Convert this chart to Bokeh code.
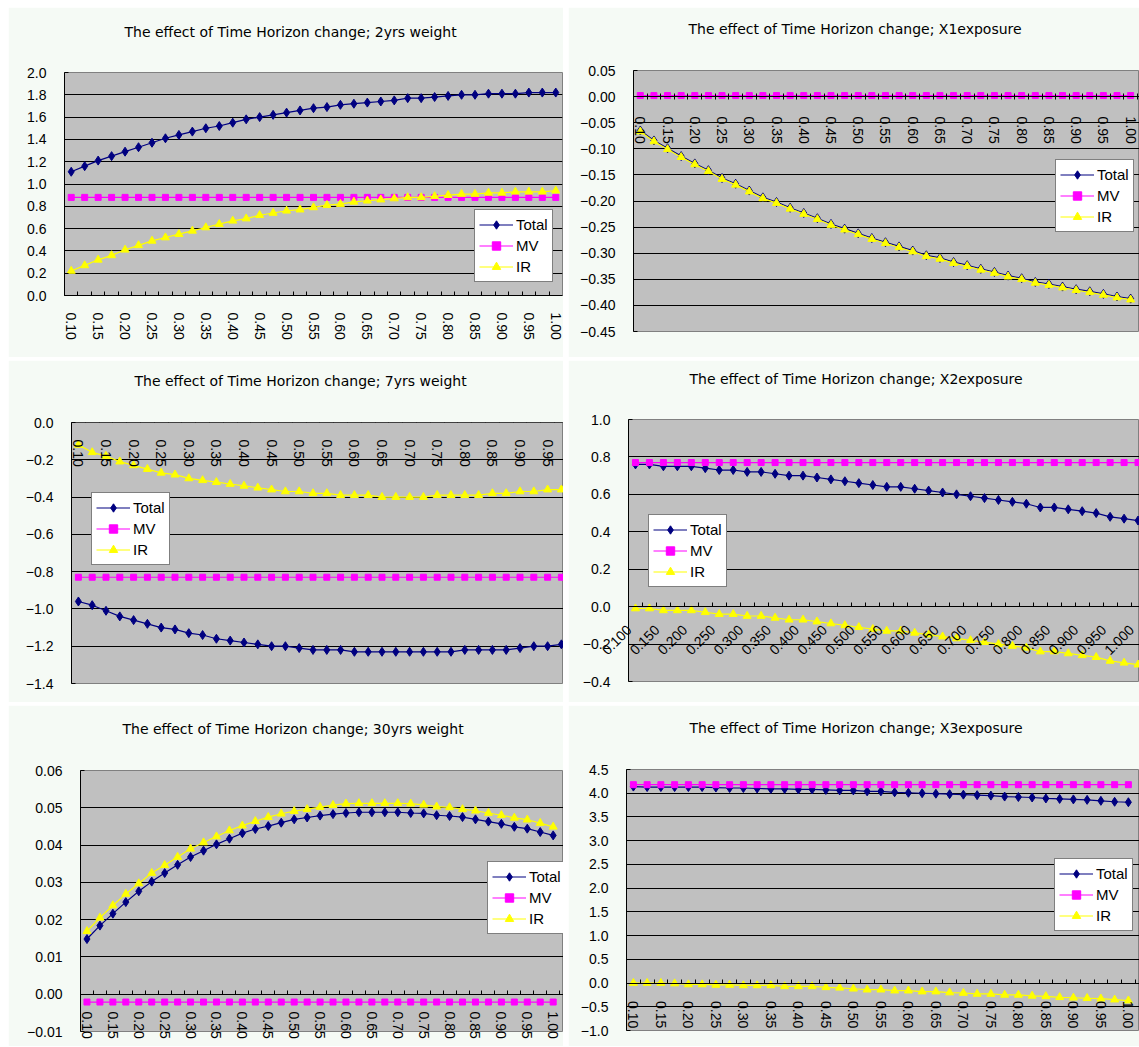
import math
from bokeh.plotting import figure
from bokeh.models import (Range1d, LinearAxis, FixedTicker, CustomJSTickFormatter,
                          Legend, LegendItem, ColumnDataSource, Grid, Title)
from bokeh.layouts import row, column
from bokeh.embed import file_html
from bokeh.resources import INLINE

# ---------------- data ----------------
horizon = [0.100, 0.125, 0.150, 0.175, 0.200, 0.225, 0.250, 0.275, 0.300, 0.325,
           0.350, 0.375, 0.400, 0.425, 0.450, 0.475, 0.500, 0.525, 0.550, 0.575,
           0.600, 0.625, 0.650, 0.675, 0.700, 0.725, 0.750, 0.775, 0.800, 0.825,
           0.850, 0.875, 0.900, 0.925, 0.950, 0.975, 1.000]
series_names = ["Total", "MV", "IR"]

# 2yrs weight
total_2y = [1.11, 1.16, 1.21, 1.25, 1.29, 1.33, 1.37, 1.41, 1.44, 1.47,
            1.50, 1.52, 1.55, 1.58, 1.60, 1.62, 1.64, 1.66, 1.68, 1.69,
            1.71, 1.72, 1.73, 1.74, 1.75, 1.77, 1.77, 1.78, 1.79, 1.80,
            1.80, 1.81, 1.81, 1.81, 1.82, 1.82, 1.82]
mv_2y = [0.88] * 37
ir_2y = [0.22, 0.27, 0.32, 0.36, 0.41, 0.45, 0.49, 0.52, 0.55, 0.58,
         0.61, 0.64, 0.67, 0.69, 0.72, 0.74, 0.76, 0.77, 0.79, 0.81,
         0.82, 0.84, 0.85, 0.86, 0.87, 0.88, 0.88, 0.89, 0.90, 0.91,
         0.91, 0.92, 0.92, 0.93, 0.93, 0.93, 0.94]

# X1 exposure
total_x1 = [-0.065, -0.084, -0.099, -0.114, -0.128, -0.141, -0.156, -0.167, -0.180, -0.193,
            -0.202, -0.213, -0.223, -0.233, -0.244, -0.253, -0.262, -0.271, -0.279, -0.287,
            -0.295, -0.304, -0.309, -0.317, -0.323, -0.330, -0.336, -0.343, -0.348, -0.355,
            -0.359, -0.364, -0.369, -0.373, -0.378, -0.383, -0.387]
mv_x1 = [0.002] * 37
ir_x1 = [-0.067, -0.086, -0.101, -0.116, -0.130, -0.143, -0.158, -0.169, -0.182, -0.195,
         -0.204, -0.215, -0.225, -0.235, -0.246, -0.255, -0.264, -0.273, -0.281, -0.289,
         -0.297, -0.306, -0.311, -0.319, -0.325, -0.332, -0.338, -0.345, -0.350, -0.357,
         -0.361, -0.366, -0.371, -0.375, -0.380, -0.385, -0.389]

# 7yrs weight
total_7y = [-0.96, -0.98, -1.01, -1.04, -1.06, -1.08, -1.10, -1.11, -1.13, -1.14,
            -1.16, -1.17, -1.18, -1.19, -1.20, -1.20, -1.21, -1.22, -1.22, -1.22,
            -1.23, -1.23, -1.23, -1.23, -1.23, -1.23, -1.23, -1.23, -1.22, -1.22,
            -1.22, -1.22, -1.21, -1.20, -1.20, -1.19, -1.19]
mv_7y = [-0.83] * 37
ir_7y = [-0.12, -0.16, -0.18, -0.21, -0.23, -0.25, -0.27, -0.28, -0.30, -0.31,
         -0.32, -0.33, -0.34, -0.35, -0.36, -0.37, -0.37, -0.38, -0.38, -0.39,
         -0.39, -0.39, -0.40, -0.40, -0.40, -0.40, -0.39, -0.39, -0.39, -0.39,
         -0.38, -0.38, -0.37, -0.37, -0.36, -0.36, -0.35]

# X2 exposure
total_x2 = [0.76, 0.76, 0.75, 0.75, 0.75, 0.74, 0.73, 0.73, 0.72, 0.72,
            0.71, 0.70, 0.70, 0.69, 0.68, 0.67, 0.66, 0.65, 0.64, 0.64,
            0.63, 0.62, 0.61, 0.60, 0.59, 0.58, 0.57, 0.56, 0.55, 0.53,
            0.53, 0.52, 0.51, 0.50, 0.48, 0.47, 0.46]
mv_x2 = [0.77] * 37
ir_x2 = [-0.01, -0.01, -0.02, -0.02, -0.02, -0.03, -0.04, -0.04, -0.05, -0.05,
         -0.06, -0.07, -0.07, -0.08, -0.09, -0.10, -0.11, -0.12, -0.13, -0.13,
         -0.14, -0.15, -0.16, -0.17, -0.18, -0.19, -0.20, -0.21, -0.22, -0.24,
         -0.24, -0.25, -0.26, -0.27, -0.29, -0.30, -0.31]

# 30yrs weight
total_30y = [0.0148, 0.0184, 0.0216, 0.0247, 0.0276, 0.0302, 0.0325, 0.0347, 0.0368, 0.0385,
             0.0402, 0.0417, 0.0432, 0.0443, 0.0451, 0.0460, 0.0469, 0.0474, 0.0479, 0.0483,
             0.0486, 0.0488, 0.0488, 0.0488, 0.0488, 0.0486, 0.0485, 0.0480, 0.0478, 0.0475,
             0.0469, 0.0463, 0.0457, 0.0449, 0.0444, 0.0435, 0.0426]
mv_30y = [-0.0021] * 37
ir_30y = [0.0169, 0.0205, 0.0238, 0.0269, 0.0297, 0.0325, 0.0346, 0.0368, 0.0390, 0.0407,
          0.0423, 0.0439, 0.0452, 0.0464, 0.0475, 0.0484, 0.0491, 0.0496, 0.0502, 0.0507,
          0.0511, 0.0512, 0.0512, 0.0512, 0.0512, 0.0511, 0.0508, 0.0503, 0.0501, 0.0496,
          0.0492, 0.0486, 0.0480, 0.0473, 0.0468, 0.0459, 0.0449]

# X3 exposure
total_x3 = [4.14, 4.13, 4.13, 4.13, 4.13, 4.13, 4.12, 4.11, 4.11, 4.10,
            4.09, 4.09, 4.08, 4.08, 4.07, 4.06, 4.06, 4.04, 4.04, 4.02,
            4.01, 4.00, 3.99, 3.98, 3.97, 3.96, 3.95, 3.93, 3.92, 3.91,
            3.89, 3.88, 3.87, 3.86, 3.84, 3.82, 3.81]
mv_x3 = [4.18] * 37
ir_x3 = [0.00, 0.00, 0.00, -0.01, -0.03, -0.03, -0.04, -0.04, -0.05, -0.05,
         -0.05, -0.07, -0.07, -0.07, -0.09, -0.10, -0.12, -0.14, -0.14, -0.16,
         -0.16, -0.18, -0.18, -0.20, -0.21, -0.23, -0.23, -0.25, -0.25, -0.27,
         -0.28, -0.30, -0.31, -0.32, -0.33, -0.35, -0.37]

titles = ["The effect of Time Horizon change; 2yrs weight",
          "The effect of Time Horizon change; X1exposure",
          "The effect of Time Horizon change; 7yrs weight",
          "The effect of Time Horizon change; X2exposure",
          "The effect of Time Horizon change; 30yrs weight",
          "The effect of Time Horizon change; X3exposure"]

# ---------------- styling ----------------
PANEL_BG = "#f5faf5"
PLOT_BG = "#c0c0c0"
NAVY = "#000080"
MAGENTA = "#ff00ff"
YELLOW = "#ffff00"
TICK_FONT = "Liberation Sans"
TITLE_FONT = "DejaVu Sans"
TITLE_H = 16      # approx. text box height of the 14px title
SPACER_H = 1      # approx. text box height of the 1px spacer title

STEP = horizon[1] - horizon[0]

YFMT = """
const v = Math.abs(tick) < 1e-9 ? 0 : tick;
return v.toFixed(d).replace('-', '\\u2212');
"""
XFMT = "return (tick + s).toFixed(d);"


def make_panel(title, total, mv, ir, ylo, yhi, yint, ydec, xdec, orient,
               W, H, fl, fr, ft, fb, catw, leg_xy, t_left, tcy,
               tin, tout, xstand, mode, lab_shift_px=0.0):
    frame_w = W - fl - fr
    frame_h = H - ft - fb
    x0 = horizon[0] - STEP / 2
    x1 = x0 + frame_w / catw * STEP
    p = figure(width=W, height=H, x_range=Range1d(x0, x1), y_range=Range1d(ylo, yhi),
               output_backend="svg", toolbar_location=None,
               x_axis_location=None, y_axis_location=None,
               min_border_left=fl, min_border_right=fr,
               min_border_top=ft, min_border_bottom=fb)
    p.background_fill_color = PLOT_BG
    p.border_fill_color = PANEL_BG
    p.outline_line_color = "#808080"
    p.outline_line_width = 1
    for g in p.grid:
        g.visible = False

    n = int(round((yhi - ylo) / yint))
    yticks = [round(ylo + k * yint, 6) for k in range(n + 1)]
    yt = FixedTicker(ticks=yticks)
    p.add_layout(Grid(dimension=1, ticker=yt, grid_line_color="black",
                      grid_line_width=1), "center")

    yax = LinearAxis(ticker=yt,
                     formatter=CustomJSTickFormatter(args=dict(d=ydec), code=YFMT),
                     major_tick_in=4, major_tick_out=0, minor_tick_in=0, minor_tick_out=0,
                     major_label_standoff=18, axis_line_color="black",
                     major_tick_line_color="black",
                     major_label_text_font=TICK_FONT, major_label_text_font_size="14px",
                     major_label_text_color="black")
    p.add_layout(yax, "left")

    minor = [h - STEP / 2 for h in horizon] + [horizon[-1] + STEP / 2]
    label_kw = dict(major_label_orientation=orient,
                    major_label_text_font=TICK_FONT, major_label_text_font_size="14px",
                    major_label_text_color="black")
    if mode in ("plain", "fixed"):
        xkw = dict(ticker=FixedTicker(ticks=horizon[::2], minor_ticks=minor),
                   formatter=CustomJSTickFormatter(args=dict(d=xdec, s=0.0), code=XFMT),
                   major_tick_in=0, major_tick_out=0,
                   minor_tick_in=tin, minor_tick_out=tout,
                   minor_tick_line_color="black", axis_line_color="black",
                   major_label_standoff=xstand, **label_kw)
        if mode == "fixed":
            xkw["fixed_location"] = 0
        p.add_layout(LinearAxis(**xkw), "below")
    else:
        # axis line and tick marks at y = 0
        p.add_layout(LinearAxis(ticker=FixedTicker(ticks=[], minor_ticks=minor),
                                fixed_location=0, major_tick_in=0, major_tick_out=0,
                                minor_tick_in=tin, minor_tick_out=tout,
                                minor_tick_line_color="black", axis_line_color="black",
                                major_label_text_font_size="0px"), "below")
        # labels hung from the frame edge so that they are not clipped by the frame
        axis_off = (0 - ylo) / (yhi - ylo) * frame_h
        s = lab_shift_px / catw * STEP
        p.add_layout(LinearAxis(ticker=FixedTicker(ticks=[h - s for h in horizon[::2]]),
                                formatter=CustomJSTickFormatter(args=dict(d=xdec, s=s),
                                                                code=XFMT),
                                major_tick_in=0, major_tick_out=0,
                                minor_tick_in=0, minor_tick_out=0,
                                axis_line_color=None,
                                major_label_standoff=int(round(xstand - axis_off)),
                                **label_kw), "below")

    src = ColumnDataSource(dict(x=horizon, total=total, mv=mv, ir=ir))
    lt = p.line("x", "total", source=src, line_color=NAVY, line_width=1.2)
    mt = p.scatter("x", "total", source=src, marker="diamond", size=9,
                   fill_color=NAVY, line_color=NAVY)
    lm = p.line("x", "mv", source=src, line_color=MAGENTA, line_width=1.2)
    mm = p.scatter("x", "mv", source=src, marker="square", size=6,
                   fill_color=MAGENTA, line_color=MAGENTA)
    li = p.line("x", "ir", source=src, line_color=YELLOW, line_width=1.2)
    mi = p.scatter("x", "ir", source=src, marker="triangle", size=8,
                   fill_color=YELLOW, line_color=YELLOW)

    leg = Legend(items=[LegendItem(label=series_names[0], renderers=[lt, mt]),
                        LegendItem(label=series_names[1], renderers=[lm, mm]),
                        LegendItem(label=series_names[2], renderers=[li, mi])],
                 location=leg_xy, orientation="vertical",
                 border_line_color="black", border_line_width=1,
                 background_fill_color="white", background_fill_alpha=1.0,
                 label_text_font=TICK_FONT, label_text_font_size="15px",
                 label_text_color="black",
                 glyph_width=34, glyph_height=21, label_height=21,
                 label_standoff=3, padding=4, spacing=0, margin=0)
    p.add_layout(leg, "center")

    # Title: the real title is the outer one; an added invisible title acts as
    # a spacer between it and the plot frame.
    b1 = 2 * tcy
    b2 = ft - b1 - 1
    p.title.text = title
    p.title.align = "left"
    p.title.offset = t_left
    p.title.vertical_align = "middle"
    p.title.standoff = b1 - 2 - TITLE_H
    p.title.text_font = TITLE_FONT
    p.title.text_font_size = "14px"
    p.title.text_font_style = "normal"
    p.title.text_color = "black"
    p.add_layout(Title(text=" ", text_font_size="1px",
                       standoff=max(0, b2 - 2 - SPACER_H)), "above")
    return p


VERT = "vertical"
p1 = make_panel(titles[0], total_2y, mv_2y, ir_2y, 0.0, 2.0, 0.2, 1, 2, VERT,
                555, 350, 56, 1, 65, 62, 498 / 37, (410, 13), 60, 23, 4, 0, 17, "plain")
p2 = make_panel(titles[1], total_x1, mv_x1, ir_x1, -0.45, 0.05, 0.05, 2, 2, VERT,
                571, 350, 65, 0, 63, 26, 13.62, (422, 99), 55, 20, 3, 3, 17, "fixed")
p3 = make_panel(titles[2], total_7y, mv_7y, ir_7y, -1.4, 0.0, 0.2, 1, 2, VERT,
                555, 342, 63, 0, 62, 19, 13.8, (20, 118), 63, 19, 4, 0, 17, "fixed")
p4 = make_panel(titles[3], total_x2, mv_x2, ir_x2, -0.4, 1.0, 0.2, 1, 3, math.pi / 4,
                571, 342, 60, 0, 59, 21, 13.96, (20, 94), 61, 17, 4, 0, 21, "split",
                lab_shift_px=6.5)
p5 = make_panel(titles[4], total_30y, mv_30y, ir_30y, -0.01, 0.06, 0.01, 2, 2, VERT,
                555, 341, 72, 0, 65, 15, 12.95, (407, 97), 42, 22, 4, 0, 17, "split")
p6 = make_panel(titles[5], total_x3, mv_x3, ir_x3, -1.0, 4.5, 0.5, 1, 2, VERT,
                571, 341, 58, 0, 64, 16, 13.75, (428, 99), 63, 21, 4, 0, 18, "fixed")

layout = column(row(column(p1), column(p2), spacing=5),
                row(column(p3), column(p4), spacing=5),
                row(column(p5), column(p6), spacing=5),
                spacing=3, margin=(7, 0, 0, 8))

open("out.html", "w").write(file_html(layout, INLINE))
